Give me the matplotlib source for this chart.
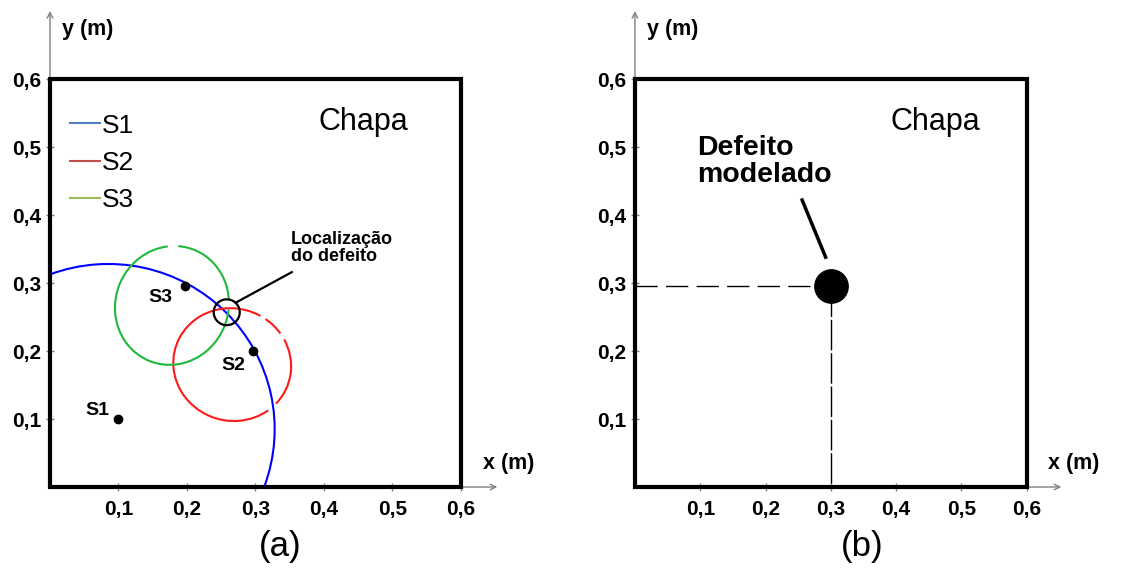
import matplotlib.pyplot as plt
from matplotlib.patches import Arc, Ellipse, Rectangle
from matplotlib.lines import Line2D

plt.rcParams["font.family"] = ["Liberation Sans", "DejaVu Sans"]

# ---------------- data ----------------
tick_vals = [0.1, 0.2, 0.3, 0.4, 0.5, 0.6]
tick_labels = ["0,1", "0,2", "0,3", "0,4", "0,5", "0,6"]
plate_size = 0.6

# sensors (panel a)
sensor_names = ["S1", "S2", "S3"]
sensor_x = [0.100, 0.296, 0.197]
sensor_y = [0.100, 0.200, 0.296]
sensor_label_x = [0.052, 0.250, 0.144]
sensor_label_y = [0.106, 0.172, 0.272]

# time-of-arrival curves: centre, width, height, tilt, visible pieces (deg)
curve_colors = ["#0000ff", "#ff1a1a", "#1fb83a"]
legend_colors = ["#4f81bd", "#c0504d", "#9bbb59"]
curve_cx = [0.085, 0.266, 0.178]
curve_cy = [0.085, 0.180, 0.267]
curve_w = [0.486, 0.173, 0.165]
curve_h = [0.486, 0.165, 0.176]
curve_tilt = [0, -20, -20]
curve_pieces = [
    [(-20.5, 110.5)],
    [(-22, 46), (53, 74), (80, 328)],
    [(0, 16), (25, 104), (114, 360)],
]

# located defect (panel a)
loc_x, loc_y, loc_d = 0.258, 0.257, 0.038

# modelled defect (panel b)
defect_x = [0.300]
defect_y = [0.295]

# ---------------- figure ----------------
fig = plt.figure(figsize=(11.26, 5.70), dpi=100)
ax_a = fig.add_axes([0.0444, 0.1456, 0.66 * 685 / 1126, 0.70 * 680 / 570])
ax_b = fig.add_axes([0.5639, 0.1456, 0.66 * 653 / 1126, 0.70 * 680 / 570])

for ax in (ax_a, ax_b):
    ax.set_xlim(0, 0.66)
    ax.set_ylim(0, 0.70)
    for s in ax.spines.values():
        s.set_visible(False)
    ax.set_xticks(tick_vals, labels=tick_labels, fontsize=15, fontweight="bold")
    ax.set_yticks(tick_vals, labels=tick_labels, fontsize=15, fontweight="bold")
    ax.tick_params(direction="inout", length=6, width=1, color="#808080", pad=3)
    ax.tick_params(axis="x", pad=6)
    # axis arrows
    ax.annotate("", xy=(0, 0.70), xytext=(0, 0), xycoords="data",
                arrowprops=dict(arrowstyle="->", color="#808080", lw=1,
                                shrinkA=0, shrinkB=0), annotation_clip=False)
    ax.annotate("", xy=(0.653, 0), xytext=(0, 0), xycoords="data",
                arrowprops=dict(arrowstyle="->", color="#808080", lw=1,
                                shrinkA=0, shrinkB=0), annotation_clip=False)
    # plate
    ax.add_patch(Rectangle((0, 0), plate_size, plate_size, fill=False,
                           edgecolor="black", lw=3, zorder=5, clip_on=False))
    ax.text(0.018, 0.665, "y (m)", fontsize=15.5, fontweight="bold", va="baseline")
    ax.text(0.632, 0.027, "x (m)", fontsize=15.5, fontweight="bold", va="baseline",
            clip_on=False)
    ax.text(0.392, 0.525, "Chapa", fontsize=22, va="baseline")

# ---------- panel (a) ----------
for i in range(3):
    for t1, t2 in curve_pieces[i]:
        ax_a.add_patch(Arc((curve_cx[i], curve_cy[i]), curve_w[i], curve_h[i],
                           angle=curve_tilt[i], theta1=t1, theta2=t2,
                           color=curve_colors[i], lw=1.5, zorder=2))

ax_a.plot(sensor_x, sensor_y, "o", color="black", ms=6, zorder=4)
for i in range(3):
    ax_a.text(sensor_label_x[i], sensor_label_y[i], sensor_names[i],
              fontsize=14, fontweight="bold", va="baseline")

ax_a.add_patch(Ellipse((loc_x, loc_y), loc_d, loc_d, fill=False,
                       edgecolor="black", lw=1.6, zorder=4))
ax_a.plot([0.271, 0.353], [0.271, 0.316], color="black", lw=1.6)
ax_a.text(0.352, 0.377, "Localização\ndo defeito", fontsize=13,
          fontweight="bold", va="top", linespacing=1.05)

handles = [Line2D([], [], color=c, lw=1.5) for c in legend_colors]
ax_a.legend(handles, sensor_names, loc="upper left", bbox_to_anchor=(0.029, 0.549),
            bbox_transform=ax_a.transData, frameon=False, fontsize=19,
            borderpad=0, borderaxespad=0, handlelength=1.15, handletextpad=0.08,
            labelspacing=0.5)

# ---------- panel (b) ----------
ax_b.plot([0, defect_x[0]], [defect_y[0], defect_y[0]], color="black", lw=1,
          dashes=(16, 6), zorder=3)
ax_b.plot([defect_x[0], defect_x[0]], [defect_y[0], 0], color="black", lw=1,
          dashes=(22, 2), zorder=3)
ax_b.plot(defect_x, defect_y, "o", color="black", ms=24, zorder=4)
ax_b.plot([0.256, 0.292], [0.422, 0.338], color="black", lw=2.5)
ax_b.text(0.095, 0.517, "Defeito\nmodelado", fontsize=20.5, fontweight="bold",
          va="top", linespacing=1.05)

fig.text(280 / 1126, 0.042, "(a)", fontsize=25, ha="center", va="center")
fig.text(862 / 1126, 0.042, "(b)", fontsize=25, ha="center", va="center")

fig.savefig("out.png", dpi=100)
